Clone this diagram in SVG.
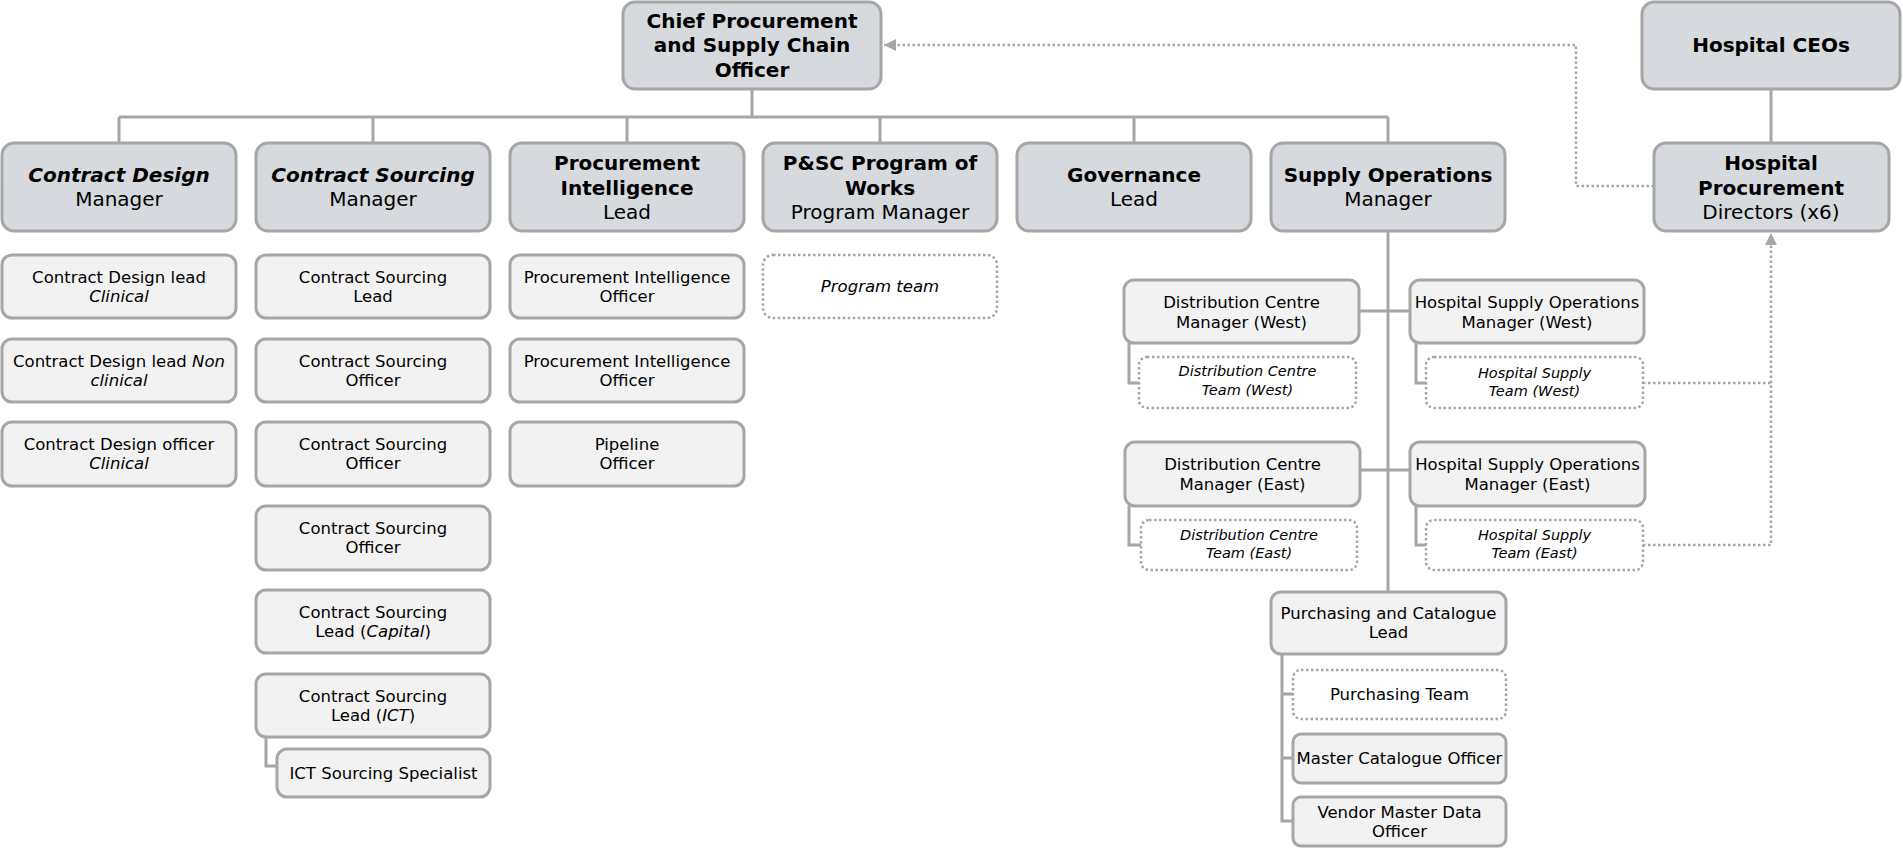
<svg xmlns="http://www.w3.org/2000/svg" width="1903" height="852" viewBox="0 0 1903 852">
<style>
text{font-family:"DejaVu Sans","Liberation Sans",sans-serif;fill:#000;text-anchor:middle}
.m{fill:#d6d9dd;stroke:#a6a6a6;stroke-width:3}
.s{fill:#f2f2f2;stroke:#a6a6a6;stroke-width:3}
.t{fill:#fff;stroke:#a6a6a6;stroke-width:2.5;stroke-dasharray:2.5 2.5}
.b{font-size:20px;font-weight:bold}
.r{font-size:20px}
.l2{font-size:16.5px}
.tm{font-size:14.5px;font-style:italic}
.i{font-style:italic}
.ln{fill:none;stroke:#a6a6a6;stroke-width:3}
.dl{fill:none;stroke:#a6a6a6;stroke-width:2.5;stroke-dasharray:2.5 2.5}
</style>
<defs>
<marker id="ah" markerUnits="userSpaceOnUse" markerWidth="14" markerHeight="14" refX="12" refY="6" orient="auto">
<path d="M0,0 L12,6 L0,12 Z" fill="#a6a6a6"/>
</marker>
</defs>

<g id="connectors">
<path class="ln" d="M752 89 V117 M119 117 H1388 M119 117 V143 M373 117 V143 M627 117 V143 M880 117 V143 M1134 117 V143 M1388 117 V143"/>
<path class="ln" d="M1771 89 V143"/>
<path class="ln" d="M266 737 V766 H277"/>
<path class="ln" d="M1388 231 V592"/>
<path class="ln" d="M1359 311 H1410 M1360 470 H1410"/>
<path class="ln" d="M1129 343 V383 H1139 M1416 343 V383 H1426 M1129 506 V545 H1141 M1416 506 V545 H1426"/>
<path class="ln" d="M1282 654 V821 H1293 M1282 694 H1293 M1282 758 H1293"/>
<path class="dl" d="M1654 186 H1576 V45 H884" marker-end="url(#ah)"/>
<path class="dl" d="M1643 383 H1771"/>
<path class="dl" d="M1643 545 H1771 V233" marker-end="url(#ah)"/>
</g>

<g id="chief"><rect class="m" x="623" y="2" width="258" height="87" rx="12"/>
<text class="b" x="752" y="28">Chief Procurement</text><text class="b" x="752" y="52">and Supply Chain</text><text class="b" x="752" y="77">Officer</text></g>

<g id="hospital-ceos"><rect class="m" x="1642" y="2" width="258" height="87" rx="12"/>
<text class="b" x="1771" y="52">Hospital CEOs</text></g>

<g id="hospital-procurement"><rect class="m" x="1654" y="143" width="235" height="88" rx="12"/>
<text class="b" x="1771" y="170">Hospital</text><text class="b" x="1771" y="195">Procurement</text><text class="r" x="1771" y="219">Directors (x6)</text></g>

<g id="contract-design"><rect class="m" x="2" y="143" width="234" height="88" rx="12"/>
<text class="b i" x="119" y="182">Contract Design</text><text class="r" x="119" y="206">Manager</text></g>

<g id="contract-sourcing"><rect class="m" x="256" y="143" width="234" height="88" rx="12"/>
<text class="b i" x="373" y="182">Contract Sourcing</text><text class="r" x="373" y="206">Manager</text></g>

<g id="procurement-intelligence"><rect class="m" x="510" y="143" width="234" height="88" rx="12"/>
<text class="b" x="627" y="170">Procurement</text><text class="b" x="627" y="195">Intelligence</text><text class="r" x="627" y="219">Lead</text></g>

<g id="psc-program"><rect class="m" x="763" y="143" width="234" height="88" rx="12"/>
<text class="b" x="880" y="170">P&amp;SC Program of</text><text class="b" x="880" y="195">Works</text><text class="r" x="880" y="219">Program Manager</text></g>

<g id="governance"><rect class="m" x="1017" y="143" width="234" height="88" rx="12"/>
<text class="b" x="1134" y="182">Governance</text><text class="r" x="1134" y="206">Lead</text></g>

<g id="supply-operations"><rect class="m" x="1271" y="143" width="234" height="88" rx="12"/>
<text class="b" x="1388" y="182">Supply Operations</text><text class="r" x="1388" y="206">Manager</text></g>

<g id="cd-lead-clinical"><rect class="s" x="2" y="255" width="234" height="63" rx="10"/>
<text class="l2" x="119" y="283">Contract Design lead</text><text class="l2 i" x="119" y="302">Clinical</text></g>
<g id="cd-lead-nonclinical"><rect class="s" x="2" y="339" width="234" height="63" rx="10"/>
<text class="l2" x="119" y="367">Contract Design lead <tspan class="i">Non</tspan></text><text class="l2 i" x="119" y="386">clinical</text></g>
<g id="cd-officer-clinical"><rect class="s" x="2" y="422" width="234" height="64" rx="10"/>
<text class="l2" x="119" y="450">Contract Design officer</text><text class="l2 i" x="119" y="469">Clinical</text></g>

<g id="cs-lead"><rect class="s" x="256" y="255" width="234" height="63" rx="10"/>
<text class="l2" x="373" y="283">Contract Sourcing</text><text class="l2" x="373" y="302">Lead</text></g>
<g id="cs-officer-1"><rect class="s" x="256" y="339" width="234" height="63" rx="10"/>
<text class="l2" x="373" y="367">Contract Sourcing</text><text class="l2" x="373" y="386">Officer</text></g>
<g id="cs-officer-2"><rect class="s" x="256" y="422" width="234" height="64" rx="10"/>
<text class="l2" x="373" y="450">Contract Sourcing</text><text class="l2" x="373" y="469">Officer</text></g>
<g id="cs-officer-3"><rect class="s" x="256" y="506" width="234" height="64" rx="10"/>
<text class="l2" x="373" y="534">Contract Sourcing</text><text class="l2" x="373" y="553">Officer</text></g>
<g id="cs-lead-capital"><rect class="s" x="256" y="590" width="234" height="63" rx="10"/>
<text class="l2" x="373" y="618">Contract Sourcing</text><text class="l2" x="373" y="637">Lead (<tspan class="i">Capital</tspan>)</text></g>
<g id="cs-lead-ict"><rect class="s" x="256" y="674" width="234" height="63" rx="10"/>
<text class="l2" x="373" y="702">Contract Sourcing</text><text class="l2" x="373" y="721">Lead (<tspan class="i">ICT</tspan>)</text></g>
<g id="ict-specialist"><rect class="s" x="277" y="749" width="213" height="48" rx="10"/>
<text class="l2" x="383.5" y="779">ICT Sourcing Specialist</text></g>

<g id="pi-officer-1"><rect class="s" x="510" y="255" width="234" height="63" rx="10"/>
<text class="l2" x="627" y="283">Procurement Intelligence</text><text class="l2" x="627" y="302">Officer</text></g>
<g id="pi-officer-2"><rect class="s" x="510" y="339" width="234" height="63" rx="10"/>
<text class="l2" x="627" y="367">Procurement Intelligence</text><text class="l2" x="627" y="386">Officer</text></g>
<g id="pipeline-officer"><rect class="s" x="510" y="422" width="234" height="64" rx="10"/>
<text class="l2" x="627" y="450">Pipeline</text><text class="l2" x="627" y="469">Officer</text></g>

<g id="program-team"><rect class="t" x="763" y="255" width="234" height="63" rx="10"/>
<text class="l2 i" x="880" y="292">Program team</text></g>

<g id="dcm-west"><rect class="s" x="1124" y="280" width="235" height="63" rx="10"/>
<text class="l2" x="1241.5" y="308">Distribution Centre</text><text class="l2" x="1241.5" y="328">Manager (West)</text></g>
<g id="hsom-west"><rect class="s" x="1410" y="280" width="234" height="63" rx="10"/>
<text class="l2" x="1527" y="308">Hospital Supply Operations</text><text class="l2" x="1527" y="328">Manager (West)</text></g>
<g id="dc-team-west"><rect class="t" x="1139" y="357" width="217" height="51" rx="8"/>
<text class="tm" x="1247.5" y="376">Distribution Centre</text><text class="tm" x="1247.5" y="395">Team (West)</text></g>
<g id="hs-team-west"><rect class="t" x="1426" y="357" width="217" height="51" rx="8"/>
<text class="tm" x="1534.5" y="378">Hospital Supply</text><text class="tm" x="1534.5" y="396">Team (West)</text></g>

<g id="dcm-east"><rect class="s" x="1125" y="442" width="235" height="64" rx="10"/>
<text class="l2" x="1242.5" y="470">Distribution Centre</text><text class="l2" x="1242.5" y="490">Manager (East)</text></g>
<g id="hsom-east"><rect class="s" x="1410" y="442" width="235" height="64" rx="10"/>
<text class="l2" x="1527.5" y="470">Hospital Supply Operations</text><text class="l2" x="1527.5" y="490">Manager (East)</text></g>
<g id="dc-team-east"><rect class="t" x="1141" y="520" width="216" height="50" rx="8"/>
<text class="tm" x="1249" y="540">Distribution Centre</text><text class="tm" x="1249" y="558">Team (East)</text></g>
<g id="hs-team-east"><rect class="t" x="1426" y="520" width="217" height="50" rx="8"/>
<text class="tm" x="1534.5" y="540">Hospital Supply</text><text class="tm" x="1534.5" y="558">Team (East)</text></g>

<g id="purchasing-lead"><rect class="s" x="1271" y="592" width="235" height="62" rx="10"/>
<text class="l2" x="1388.5" y="619">Purchasing and Catalogue</text><text class="l2" x="1388.5" y="638">Lead</text></g>
<g id="purchasing-team"><rect class="t" x="1293" y="670" width="213" height="49" rx="8"/>
<text class="l2" x="1399.5" y="700">Purchasing Team</text></g>
<g id="master-catalogue"><rect class="s" x="1293" y="734" width="213" height="49" rx="8"/>
<text class="l2" x="1399.5" y="764">Master Catalogue Officer</text></g>
<g id="vendor-master"><rect class="s" x="1293" y="797" width="213" height="49" rx="8"/>
<text class="l2" x="1399.5" y="818">Vendor Master Data</text><text class="l2" x="1399.5" y="837">Officer</text></g>
</svg>
